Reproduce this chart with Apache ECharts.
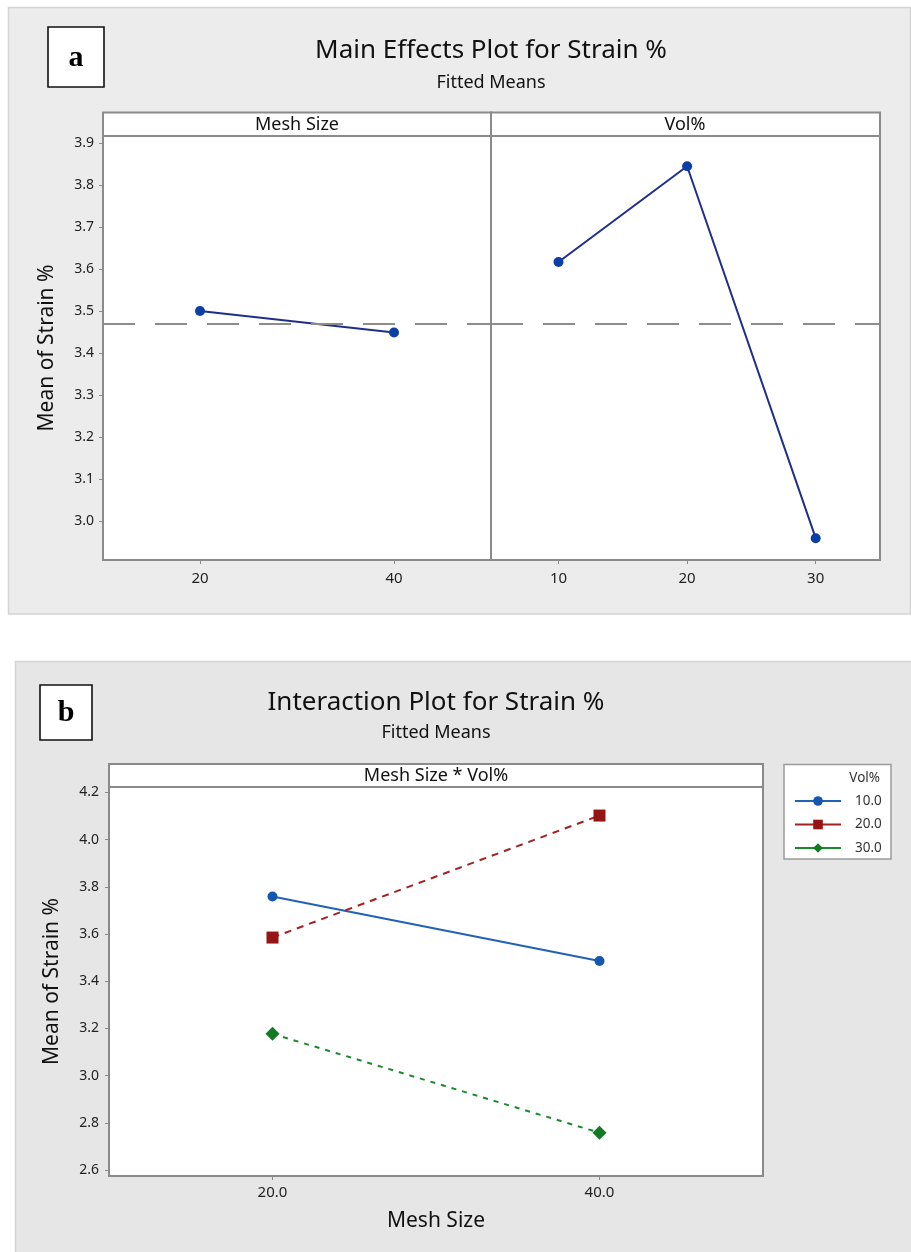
<!DOCTYPE html>
<html>
<head>
<meta charset="utf-8">
<script src="https://cdn.jsdelivr.net/npm/echarts@6/dist/echarts.min.js"></script>
<style>
  html, body { margin: 0; padding: 0; background: #ffffff; }
  #chart { width: 911px; height: 1252px; }
</style>
</head>
<body>
<div id="chart"></div>
<script>
// Main effects: fitted means of Strain % at each factor level
const meshLevels = [20, 40];
const meshMeans = [3.500, 3.449];
const volLevels = [10, 20, 30];
const volMeans = [3.617, 3.845, 2.959];
const grandMean = 3.474;
const mainYTicks = [3.0, 3.1, 3.2, 3.3, 3.4, 3.5, 3.6, 3.7, 3.8, 3.9];
const meshTicks = [20, 40];
const volTicks = [10, 20, 30];

// Interaction: Mesh Size x Vol%
const interMesh = [20, 40];
const volGroups = ['10.0', '20.0', '30.0'];
const interVol10 = [3.759, 3.486];
const interVol20 = [3.585, 4.102];
const interVol30 = [3.177, 2.758];
const interYTicks = [2.6, 2.8, 3.0, 3.2, 3.4, 3.6, 3.8, 4.0, 4.2];
const interXTicks = [20, 40];

const FONT = '"Noto Sans", "Open Sans", sans-serif';
const FRAME = '#8a8a8a';
const TXT = '#222222';

const pairs = (xs, ys) => xs.map((x, i) => [x, ys[i]]);

function text(x, y, str, size, extra) {
  return {
    type: 'text', x: x, y: y, z: 10,
    style: Object.assign({
      text: str, fill: TXT, fontSize: size, fontFamily: FONT,
      align: 'center', verticalAlign: 'middle',
      textAlign: 'center', textVerticalAlign: 'middle'
    }, extra || {})
  };
}
function rect(x, y, w, h, fill, stroke, lw, z) {
  return {
    type: 'rect', z: z, shape: { x: x, y: y, width: w, height: h },
    style: { fill: fill, stroke: stroke, lineWidth: lw }
  };
}

const valueTickAxis = (gridIndex, min, max, ticks, fmt, fontSize, margin) => ({
  type: 'value', gridIndex: gridIndex, min: min, max: max,
  axisLine: { show: false },
  splitLine: { show: false },
  axisTick: { show: true, length: 4, customValues: ticks, lineStyle: { color: FRAME, width: 1 } },
  axisLabel: { customValues: ticks, formatter: fmt, color: TXT, fontSize: fontSize, fontFamily: FONT, margin: margin }
});

const axisNameStyle = { fontSize: 21, color: '#111', fontFamily: FONT };

const chart = echarts.init(document.getElementById('chart'), null, { renderer: 'canvas' });

const option = {
  animation: false,
  backgroundColor: '#ffffff',
  graphic: {
    elements: [
      // panel backgrounds
      rect(8.5, 7.5, 902, 606.5, '#ececec', '#d4d4d4', 1.5, -100),
      rect(15.5, 661.5, 900, 600, '#e6e6e6', '#d4d4d4', 1.5, -100),
      // panel letters
      rect(48, 27, 56, 60, '#ffffff', '#111111', 1.6, 5),
      text(76, 58, 'a', 30, { fontFamily: '"Liberation Serif", "DejaVu Serif", serif', fontWeight: 'bold', fill: '#000' }),
      rect(40, 685, 52, 55, '#ffffff', '#111111', 1.6, 5),
      text(66, 713, 'b', 30, { fontFamily: '"Liberation Serif", "DejaVu Serif", serif', fontWeight: 'bold', fill: '#000' }),
      // titles
      text(491, 51, 'Main Effects Plot for Strain %', 26, { fill: '#111' }),
      text(491, 83, 'Fitted Means', 18, { fill: '#111' }),
      text(436, 703, 'Interaction Plot for Strain %', 26, { fill: '#111' }),
      text(436, 733, 'Fitted Means', 18, { fill: '#111' }),
      // facet strips
      rect(103, 112.5, 388, 23.5, '#ffffff', FRAME, 2, 1),
      rect(491, 112.5, 389, 23.5, '#ffffff', FRAME, 2, 1),
      text(297, 124.5, 'Mesh Size', 18, { fill: '#111' }),
      text(685, 124.5, 'Vol%', 18, { fill: '#111' }),
      rect(109, 764, 654, 23, '#ffffff', FRAME, 2, 1),
      text(436, 775.5, 'Mesh Size * Vol%', 18, { fill: '#111' }),
      // legend frame
      rect(784, 764.5, 107, 94.5, '#ffffff', '#9a9a9a', 1.5, 1),
      text(880, 778, 'Vol%', 13.5, { fill: '#333', align: 'right', textAlign: 'right' })
    ]
  },
  grid: [
    { left: 103, top: 136, width: 388, height: 424, show: true, backgroundColor: '#ffffff', borderColor: FRAME, borderWidth: 2 },
    { left: 491, top: 136, width: 389, height: 424, show: true, backgroundColor: '#ffffff', borderColor: FRAME, borderWidth: 2 },
    { left: 109, top: 787, width: 654, height: 389, show: true, backgroundColor: '#ffffff', borderColor: FRAME, borderWidth: 2 }
  ],
  xAxis: [
    valueTickAxis(0, 10, 50, meshTicks, v => String(v), 15, 11),
    valueTickAxis(1, 4.75, 35, volTicks, v => String(v), 15, 11),
    Object.assign(valueTickAxis(2, 10, 50, interXTicks, v => v.toFixed(1), 15, 9), {
      name: 'Mesh Size', nameLocation: 'middle', nameGap: 35,
      nameTextStyle: axisNameStyle
    })
  ],
  yAxis: [
    Object.assign(valueTickAxis(0, 2.907, 3.917, mainYTicks, v => v.toFixed(1), 14, 9), {
      name: 'Mean of Strain %', nameLocation: 'middle', nameGap: 45,
      nameTextStyle: axisNameStyle
    }),
    { type: 'value', gridIndex: 1, min: 2.907, max: 3.917, show: false },
    Object.assign(valueTickAxis(2, 2.5746, 4.223, interYTicks, v => v.toFixed(1), 14, 10), {
      name: 'Mean of Strain %', nameLocation: 'middle', nameGap: 46,
      nameTextStyle: axisNameStyle
    })
  ],
  legend: {
    data: volGroups,
    orient: 'vertical',
    left: 789, top: 789,
    itemWidth: 46, itemHeight: 12, itemGap: 9.5,
    selectedMode: false,
    lineStyle: { type: 'solid', width: 2 },
    textStyle: { fontSize: 13.5, color: '#333', fontFamily: FONT, padding: [0, 0, 0, 9] }
  },
  series: [
    {
      type: 'line', xAxisIndex: 0, yAxisIndex: 0,
      data: pairs(meshLevels, meshMeans),
      symbol: 'circle', symbolSize: 10,
      lineStyle: { color: '#1d2f8a', width: 2 },
      itemStyle: { color: '#0b3fa6' },
      markLine: {
        silent: true, symbol: 'none', label: { show: false },
        lineStyle: { color: '#8c8c8c', type: [32, 20], width: 2 },
        data: [{ yAxis: grandMean }]
      }
    },
    {
      type: 'line', xAxisIndex: 1, yAxisIndex: 1,
      data: pairs(volLevels, volMeans),
      symbol: 'circle', symbolSize: 10,
      lineStyle: { color: '#1d2f8a', width: 2 },
      itemStyle: { color: '#0b3fa6' },
      markLine: {
        silent: true, symbol: 'none', label: { show: false },
        lineStyle: { color: '#8c8c8c', type: [32, 20], width: 2 },
        data: [{ yAxis: grandMean }]
      }
    },
    {
      name: volGroups[0], type: 'line', xAxisIndex: 2, yAxisIndex: 2,
      data: pairs(interMesh, interVol10),
      symbol: 'circle', symbolSize: 10,
      lineStyle: { color: '#1f62b6', width: 2 },
      itemStyle: { color: '#1557b0' }
    },
    {
      name: volGroups[1], type: 'line', xAxisIndex: 2, yAxisIndex: 2,
      data: pairs(interMesh, interVol20),
      symbol: 'rect', symbolSize: 12,
      lineStyle: { color: '#a32121', width: 2, type: [7, 6] },
      itemStyle: { color: '#951515' }
    },
    {
      name: volGroups[2], type: 'line', xAxisIndex: 2, yAxisIndex: 2,
      data: pairs(interMesh, interVol30),
      symbol: 'diamond', symbolSize: 14,
      lineStyle: { color: '#1a8a2c', width: 2, type: [5, 6] },
      itemStyle: { color: '#117a22' }
    }
  ]
};

chart.setOption(option);
</script>
</body>
</html>
